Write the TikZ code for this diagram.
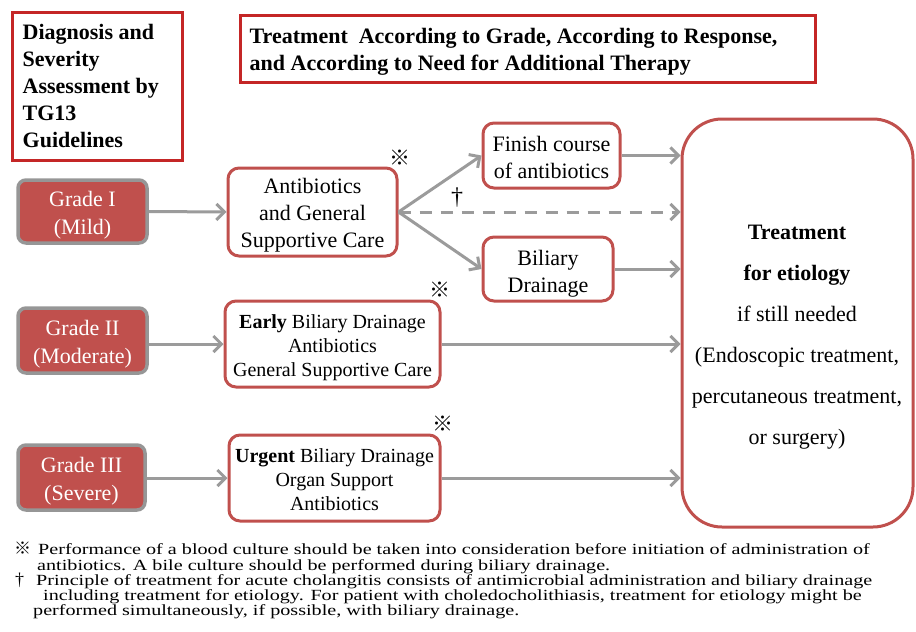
\documentclass[tikz,border=0pt]{standalone}
\usepackage{fontspec}
\setmainfont{Liberation Serif}
\newfontfamily\cjk{Noto Sans CJK JP}
\newfontfamily\fnfont[FakeStretch=1.3]{Liberation Serif}
\usetikzlibrary{arrows.meta}
\definecolor{hdrred}{RGB}{196,38,38}
\definecolor{boxred}{RGB}{192,80,77}
\definecolor{arrgray}{RGB}{155,155,155}
\definecolor{gradegray}{RGB}{150,150,150}
\begin{document}
\begin{tikzpicture}[x=1pt,y=-1pt,
  every node/.style={inner sep=0pt},
  hdr/.style={draw=hdrred,line width=3pt},
  hdrtext/.style={font=\fontsize{22}{27}\selectfont\bfseries,align=flush left,anchor=west},
  grade/.style={draw=gradegray,fill=boxred,line width=3.5pt,rounded corners=8pt,minimum width=129pt},
  gradetext/.style={text=white,font=\fontsize{22}{28}\selectfont,align=center},
  rbox/.style={draw=boxred,line width=3pt,rounded corners=11pt,fill=white},
  btext/.style={font=\fontsize{22}{27}\selectfont,align=center},
  stext/.style={font=\fontsize{20}{24}\selectfont,align=center},
  arr/.style={draw=arrgray,line width=3pt,-{Straight Barb[length=8pt,width=16pt]}},
  refmark/.style={font=\cjk\fontsize{21}{21}\selectfont},
  fn/.style={anchor=base west,font=\fnfont\fontsize{15.5}{15.5}\selectfont}
]
\path[use as bounding box] (0,0) rectangle (916,632);
% headers
\node[hdr,minimum width=170pt,minimum height=148pt] (diag) at (97,86) {};
\node[hdrtext] (diagt) at ([xshift=12pt]diag.west) {Diagnosis and\\Severity\\Assessment by\\TG13\\Guidelines};
\node[hdr,minimum width=575pt,minimum height=67pt] (title) at (527.5,48.5) {};
\node[hdrtext] (titlet) at ([xshift=11pt,yshift=-3pt]title.west) {Treatment\ \ According to Grade, According to Response,\\and According to Need for Additional Therapy};

% grades
\node[grade,minimum height=63pt] (g1) at (82.5,211.5) {};
\node[gradetext] (g1t) at ([yshift=-4pt]g1.center) {Grade I\\(Mild)};
\node[grade,minimum height=65pt] (g2) at (82.5,340.5) {};
\node[gradetext] (g2t) at ([yshift=-4pt]g2.center) {Grade II\\(Moderate)};
\node[grade,minimum height=65pt,minimum width=127pt] (g3) at (81.5,477.5) {};
\node[gradetext] (g3t) at ([yshift=-4pt]g3.center) {Grade III\\(Severe)};

% treatment boxes
\node[rbox,minimum width=169pt,minimum height=88pt] (ab) at (312.5,212) {};
\node[btext] (abt) at ([yshift=-3pt]ab.center) {Antibiotics\\and General\\Supportive Care};
\node[rbox,minimum width=137pt,minimum height=65pt] (fin) at (551.5,155.5) {};
\node[btext] (fint) at ([yshift=-2pt]fin.center) {Finish course\\of antibiotics};
\node[rbox,minimum width=130pt,minimum height=64pt] (bd) at (548,269) {};
\node[btext] (bdt) at ([yshift=-4.5pt]bd.center) {Biliary\\Drainage};
\node[rbox,minimum width=215pt,minimum height=86pt] (early) at (332.5,344) {};
\node[stext] (earlyt) at ([yshift=-4pt]early.center) {\textbf{Early} Biliary Drainage\\Antibiotics\\General Supportive Care};
\node[rbox,minimum width=211pt,minimum height=86pt] (urgent) at (334.5,478) {};
\node[stext] (urgentt) at ([yshift=-2pt]urgent.center) {\textbf{Urgent} Biliary Drainage\\Organ Support\\Antibiotics};
\node[rbox,rounded corners=40pt,minimum width=231pt,minimum height=408pt] (big) at (797.5,323) {};
\node[font=\fontsize{22}{41}\selectfont,align=center] (bigtext) at (797,337) {\textbf{Treatment}\\\textbf{for etiology}\\if still needed\\(Endoscopic treatment,\\percutaneous treatment,\\or surgery)};

% marks
\node[refmark] (m1) at (400,158) {※};
\node[refmark] (m2) at (440,290) {※};
\node[refmark] (m3) at (443,424) {※};
\node[font=\fontsize{24}{24}\selectfont] (dag) at (457,198) {†};

% connectors
\draw[arr] (g1.east) -- (ab.west);
\draw[arr] (ab.east) -- (fin.west);
\draw[arr] (ab.east) -- (bd.west);
\draw[arr,dash pattern=on 12pt off 9pt] (ab.east) -- (ab.east -| big.west);
\draw[arr] (fin.east) -- (fin.east -| big.west);
\draw[arr] (bd.east) -- (bd.east -| big.west);
\draw[arr] (g2.east |- early.west) -- (early.west);
\draw[arr] (early.east) -- (early.east -| big.west);
\draw[arr] (g3.east |- urgent.west) -- (urgent.west);
\draw[arr] (urgent.east) -- (urgent.east -| big.west);

% footnotes
\node[anchor=base west,font=\cjk\fontsize{17}{17}\selectfont] (fm1) at (14,554) {※};
\node[fn] (f1) at (38,554) {Performance of a blood culture should be taken into consideration before initiation of administration of};
\node[fn] (f2) at (37,570) {antibiotics. A bile culture should be performed during biliary drainage.};
\node[anchor=base west,font=\fontsize{18}{18}\selectfont] (fm2) at (15,585) {†};
\node[fn] (f3) at (36,585) {Principle of treatment for acute cholangitis consists of antimicrobial administration and biliary drainage};
\node[fn] (f4) at (43,600) {including treatment for etiology. For patient with choledocholithiasis, treatment for etiology might be};
\node[fn] (f5) at (33,615) {performed simultaneously, if possible, with biliary drainage.};
\end{tikzpicture}
\end{document}
